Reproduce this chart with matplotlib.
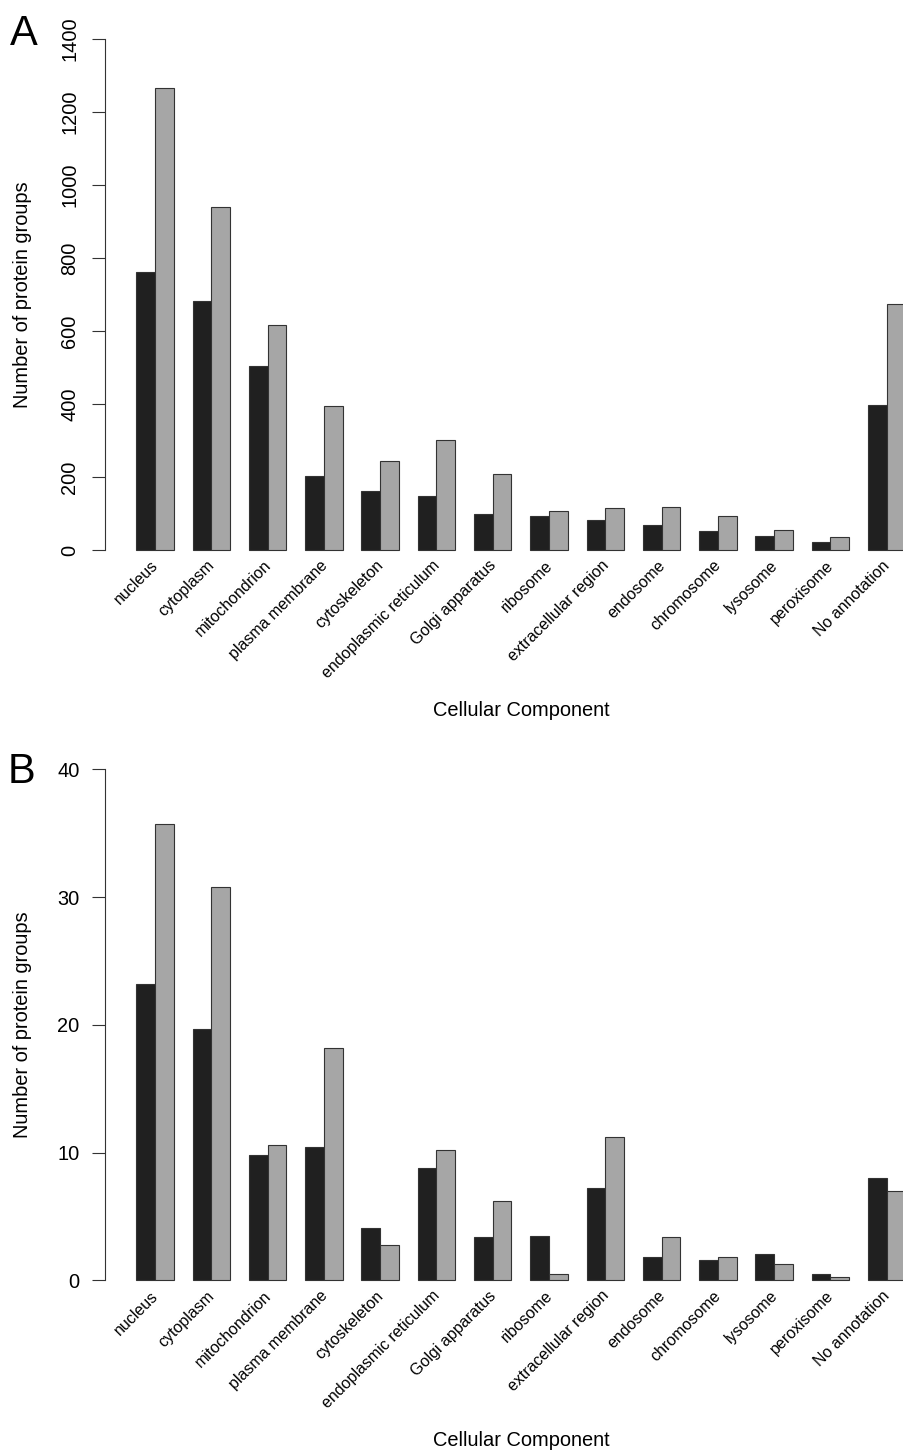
import numpy as np
import matplotlib
matplotlib.use('Agg')
import matplotlib.pyplot as plt
from matplotlib.transforms import offset_copy

plt.rcParams['font.family'] = ['Liberation Sans', 'DejaVu Sans']

components = ['nucleus', 'cytoplasm', 'mitochondrion', 'plasma membrane', 'cytoskeleton',
              'endoplasmic reticulum', 'Golgi apparatus', 'ribosome', 'extracellular region',
              'endosome', 'chromosome', 'lysosome', 'peroxisome', 'No annotation']

# panel A counts
a_dark = [761, 683, 503, 203, 162, 149, 98, 94, 83, 69, 51, 37, 22, 398]
a_light = [1265, 940, 617, 395, 243, 301, 207, 106, 115, 117, 93, 55, 35, 673]

# panel B counts
b_dark = [23.2, 19.7, 9.8, 10.4, 4.1, 8.8, 3.4, 3.5, 7.2, 1.8, 1.6, 2.1, 0.5, 8.0]
b_light = [35.7, 30.8, 10.6, 18.2, 2.8, 10.2, 6.2, 0.5, 11.2, 3.4, 1.8, 1.3, 0.3, 7.0]

W, H = 904, 1450
fig = plt.figure(figsize=(W / 100, H / 100), dpi=100)

DARK = '#202020'
LIGHT = '#a6a6a6'
EDGE = '#333333'


def panel(top_px, bottom_px, ymax, yticks, dark, light, letter, letter_xy, rotate_ticks, xlab_y):
    # axes box in pixels, R-style 4% padding around the data range
    left_px, right_px = 105.5, 936.2
    ax = fig.add_axes([left_px / W, 1 - bottom_px / H,
                       (right_px - left_px) / W, (bottom_px - top_px) / H])
    n = len(components)
    x = 1 + 3 * np.arange(n)
    ax.bar(x, dark, width=1, align='edge', color=DARK, edgecolor=EDGE, linewidth=0.8)
    ax.bar(x + 1, light, width=1, align='edge', color=LIGHT, edgecolor=EDGE, linewidth=0.8)
    ax.set_xlim(-0.64, 43.64)
    pad = ymax * 0.04
    ax.set_ylim(-pad, ymax + pad)

    for s in ['top', 'right', 'bottom']:
        ax.spines[s].set_visible(False)
    ax.spines['left'].set_bounds(0, ymax)
    ax.spines['left'].set_color(EDGE)
    ax.spines['left'].set_linewidth(0.8)
    ax.set_xticks([])
    ax.set_yticks(yticks)
    ax.set_yticklabels([str(t) for t in yticks])
    if rotate_ticks:
        ax.tick_params(axis='y', length=9.4, width=0.8, color=EDGE, labelsize=14.4,
                       labelrotation=90, pad=16.2)
        for lab in ax.get_yticklabels():
            lab.set_ha('center')
            lab.set_va('center')
    else:
        ax.tick_params(axis='y', length=9.4, width=0.8, color=EDGE, labelsize=14.4, pad=9.4)

    # slanted category names under each pair
    trans = offset_copy(ax.transData, fig=fig, x=1, y=-13, units='dots')
    for xi, name in zip(x + 1, components):
        ax.text(xi, 0, name, transform=trans, rotation=45, rotation_mode='anchor',
                ha='right', va='center', fontsize=11.5, clip_on=False)

    mid_y = (top_px + bottom_px) / 2
    fig.text(23 / W, 1 - mid_y / H, 'Number of protein groups', rotation=90,
             ha='center', va='center', fontsize=14.4)
    fig.text(520.9 / W, 1 - xlab_y / H, 'Cellular Component', ha='center', va='center',
             fontsize=14.4)
    fig.text(letter_xy[0] / W, 1 - letter_xy[1] / H, letter, ha='left', va='baseline',
             fontsize=30)
    return ax


panel(18.56, 570.4, 1400, [0, 200, 400, 600, 800, 1000, 1200, 1400],
      a_dark, a_light, 'A', (10, 45), True, 711)
panel(748.9, 1300.8, 40, [0, 10, 20, 30, 40],
      b_dark, b_light, 'B', (8, 783), False, 1441)

fig.savefig('out.png', dpi=100, facecolor='white')
